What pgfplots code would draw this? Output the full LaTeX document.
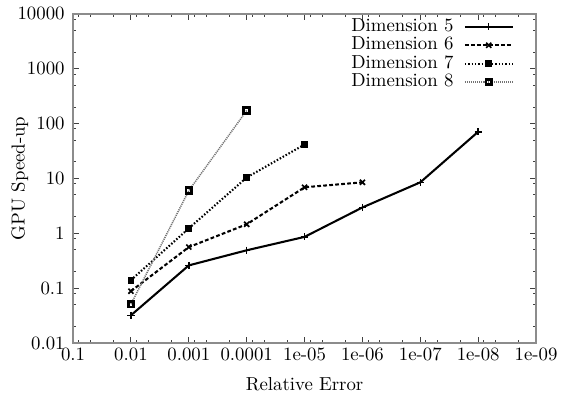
\documentclass[border=0pt]{standalone}
\usepackage{pgfplots}
\pgfplotsset{compat=1.18}
\begin{document}
\begin{tikzpicture}
\begin{axis}[
  scale only axis,
  width=246.5pt, height=175.2pt,
  xmode=log, ymode=log,
  x dir=reverse,
  xmin=1e-9, xmax=0.1,
  ymin=0.01, ymax=10000,
  xtick={1e-9,1e-8,1e-7,1e-6,1e-5,1e-4,1e-3,1e-2,1e-1},
  xticklabels={1e-09,1e-08,1e-07,1e-06,1e-05,0.0001,0.001,0.01,0.1},
  ytick={0.01,0.1,1,10,100,1000,10000},
  yticklabels={0.01,0.1,1,10,100,1000,10000},
  minor xtick={2e-9,5e-9,8e-9,2e-8,5e-8,8e-8,2e-7,5e-7,8e-7,2e-6,5e-6,8e-6,2e-5,5e-5,8e-5,2e-4,5e-4,8e-4,2e-3,5e-3,8e-3,2e-2,5e-2,8e-2},
  minor ytick={0.02,0.05,0.08,0.2,0.5,0.8,2,5,8,20,50,80,200,500,800,2000,5000,8000},
  major tick length=3.2pt, minor tick length=1.6pt,
  tick align=inside,
  axis line style={black!45, line width=0.8pt},
  every tick/.style={black!75, line width=0.5pt},
  xticklabel style={yshift=1pt},
  yticklabel style={xshift=-1pt},
  xlabel={Relative Error},
  ylabel={GPU Speed-up},
  every axis x label/.style={at={(axis description cs:0.5,-0.125)}, anchor=center},
  every axis y label/.style={at={(axis description cs:-0.1148,0.5)}, rotate=90, anchor=center},
  legend plot pos=right,
  legend cell align=right,
  legend style={draw=none, fill=none, at={(rel axis cs:1,1)}, anchor=north east,
    xshift=-11.7pt, yshift=-2pt, inner sep=0pt, row sep=0.4pt, column sep=5.5pt,
    nodes={inner sep=0pt, text height=7pt, text depth=2.4pt}},
  legend image code/.code={%
    \draw[mark repeat=2,mark phase=2,#1] plot coordinates {(0pt,0pt)(12.75pt,0pt)(25.5pt,0pt)};},
]
\addplot[black, line width=1.1pt, mark=+, mark size=1.9pt, mark options={solid, line width=0.8pt}]
  coordinates {(1e-2,0.032) (1e-3,0.26) (1e-4,0.49) (1e-5,0.86) (1e-6,2.96) (1e-7,8.5) (1e-8,71)};
\addlegendentry{Dimension 5}
\addplot[black, line width=1.1pt, dash pattern=on 2pt off 1.2pt, mark=x, mark size=1.9pt, mark options={solid, line width=0.9pt}]
  coordinates {(1e-2,0.088) (1e-3,0.56) (1e-4,1.46) (1e-5,6.9) (1e-6,8.5)};
\addlegendentry{Dimension 6}
\addplot[black, line width=1.1pt, dash pattern=on 0.8pt off 1pt, mark=square*, mark size=1.5pt, mark options={solid, line width=0.6pt}]
  coordinates {(1e-2,0.14) (1e-3,1.23) (1e-4,10.4) (1e-5,41.6)};
\addlegendentry{Dimension 7}
\addplot[black!55, line width=0.8pt, dash pattern=on 0.6pt off 0.5pt, mark=square, mark size=1.5pt, mark options={solid, black, fill=black!40, line width=1.5pt}]
  coordinates {(1e-2,0.051) (1e-3,6.0) (1e-4,173)};
\addlegendentry{Dimension 8}
\end{axis}
\pgfresetboundingbox
\useasboundingbox ([shift={(-38.9pt,-29.9pt)}]current axis.south west) rectangle ++(304pt,212.5pt);
\end{tikzpicture}
\end{document}
